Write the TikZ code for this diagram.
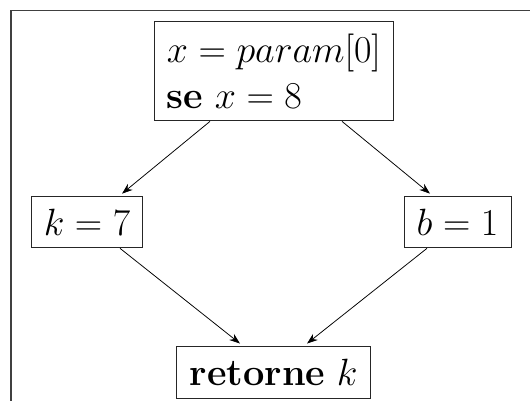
\documentclass[tikz,border=0pt]{standalone}
\usetikzlibrary{arrows.meta, calc}

\tikzset{
  bloco/.style={draw, line width=0.6pt, black!85, text=black, font=\Huge, inner sep=8.3pt},
  fluxo/.style={-{Stealth[length=7pt,width=5pt]}, line width=0.5pt}
}

\begin{document}
\begin{tikzpicture}[x=0.655pt, y=-0.655pt]
            \useasboundingbox (0,0) rectangle (530,401);
            % moldura (cortada pela borda)
            \draw[line width=0.9pt, black!75] (11,401) -- (11,10.5) -- (530,10.5);
            % blocos do grafo de fluxo
            \node[bloco, align=left] (ini) at (274,71) {$x = param[0]$\\\textbf{se} $x = 8$};
            \node[bloco] (kset) at (87,222) {$k = 7$};
            \node[bloco] (bset) at (457.5,222) {$b = 1$};
            \node[bloco] (ret) at (273.5,372) {\textbf{retorne} $k$};
            % arestas
            \draw[fluxo] ($(ini.south)+(-64,0)$) -- ($(kset.north)+(35,-2)$);
            \draw[fluxo] ($(ini.south)+(68,0)$) -- ($(bset.north)+(-27.5,-2)$);
            \draw[fluxo] ($(kset.south)+(33,0)$) -- ($(ret.north)+(-33.5,-2)$);
            \draw[fluxo] ($(bset.south)+(-30.5,0)$) -- ($(ret.north)+(33.5,-2)$);
        \end{tikzpicture}
\end{document}
